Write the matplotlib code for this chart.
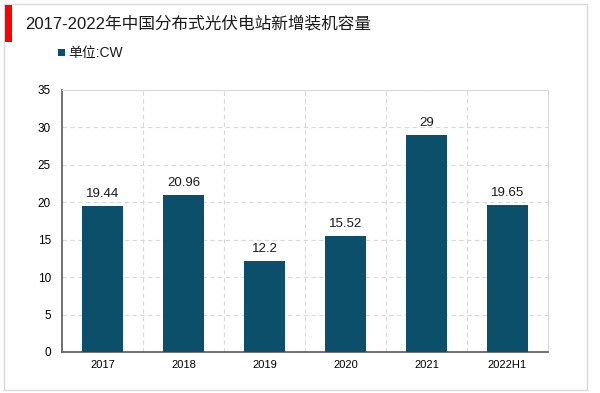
import matplotlib.pyplot as plt
from matplotlib.patches import Rectangle

plt.rcParams['font.family'] = ['Liberation Sans', 'Noto Sans CJK SC', 'DejaVu Sans']

# data
years = ['2017', '2018', '2019', '2020', '2021', '2022H1']
values = [19.44, 20.96, 12.2, 15.52, 29, 19.65]
labels = ['19.44', '20.96', '12.2', '15.52', '29', '19.65']

fig = plt.figure(figsize=(6, 3.93), dpi=100)
W, H = 600, 393

# outer frame and red marker
fig.patches.append(Rectangle((4 / W, 1 - 390 / H), 583 / W, 386 / H, transform=fig.transFigure,
                             fill=False, edgecolor='#d9d9d9', linewidth=1))
fig.patches.append(Rectangle((5 / W, 1 - 42 / H), 7 / W, 37 / H, transform=fig.transFigure,
                             facecolor='#ff0000', edgecolor='none'))
fig.text(25 / W, 1 - 24 / H, '2017-2022年中国分布式光伏电站新增装机容量', fontsize=12,
         va='center', ha='left', color='#1a1a1a', family=['Liberation Sans', 'Noto Sans CJK SC'])
fig.patches.append(Rectangle((58 / W, 1 - 56 / H), 7 / W, 7 / H, transform=fig.transFigure,
                             facecolor='#0a4f68', edgecolor='none'))
fig.text(68 / W, 1 - 52.5 / H, '单位:CW', fontsize=10, va='center', ha='left', color='#1a1a1a',
         family=['Liberation Sans', 'Noto Sans CJK SC'])

ax = fig.add_axes([62 / W, 1 - 352 / H, 486 / W, 262 / H])
x = range(len(years))
ax.bar(x, values, width=0.5, color='#0b4f6a', zorder=3)
for i, v in enumerate(values):
    ax.text(i, v + 0.8, labels[i], ha='center', va='bottom', fontsize=9.5, color='#1a1a1a')

ax.set_xlim(-0.5, len(years) - 0.5)
ax.set_ylim(0, 35)
ax.set_yticks(range(0, 36, 5))
ax.set_xticks(list(x))
ax.set_xticklabels(years, fontsize=8)
ax.tick_params(axis='y', labelsize=8.5, length=0, pad=8)
ax.tick_params(axis='x', length=0, pad=6)

ax.set_xticks([i + 0.5 for i in range(len(years) - 1)], minor=True)
ax.grid(axis='y', which='major', linestyle=(0, (4, 3)), color='#d9d9d9', linewidth=0.8, zorder=0)
ax.grid(axis='x', which='minor', linestyle=(0, (4, 3)), color='#d9d9d9', linewidth=0.8, zorder=0)
ax.tick_params(axis='x', which='minor', length=0)

for s in ['top', 'right']:
    ax.spines[s].set_color('#d9d9d9')
    ax.spines[s].set_linewidth(0.8)
for s in ['left', 'bottom']:
    ax.spines[s].set_color('#595959')
    ax.spines[s].set_linewidth(1.2)

fig.savefig('out.png', dpi=100)
